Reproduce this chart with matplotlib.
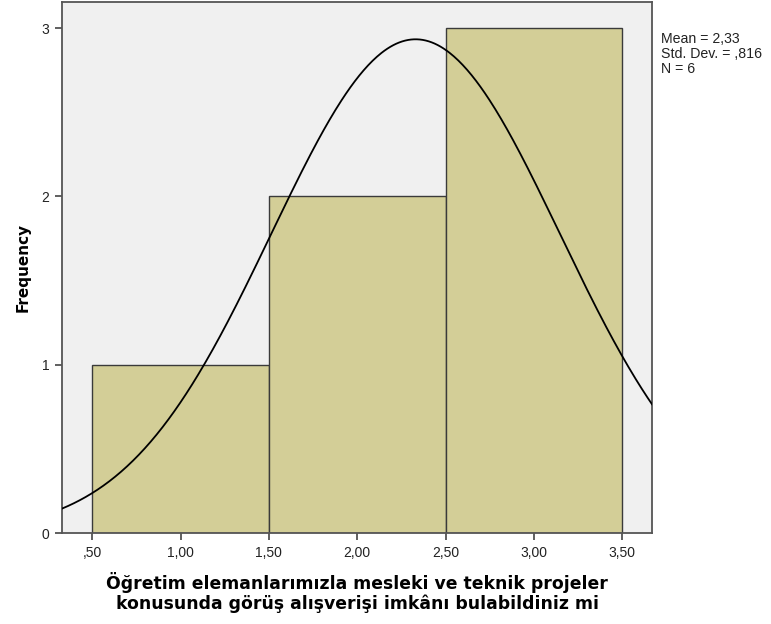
import numpy as np
import matplotlib
matplotlib.use("Agg")
import matplotlib.pyplot as plt

# Histogram-Daten
bin_kanten = [0.5, 1.5, 2.5, 3.5]
haeufigkeit = [1, 2, 3]
mittelwert = 2.33
std_abw = 0.816
n = 6
x_ticks = [0.5, 1.0, 1.5, 2.0, 2.5, 3.0, 3.5]
x_tick_labels = [",50", "1,00", "1,50", "2,00", "2,50", "3,00", "3,50"]
y_ticks = [0, 1, 2, 3]

fig = plt.figure(figsize=(7.71, 6.24), dpi=100)
ax = fig.add_axes([0.0804, 0.1458, 0.7653, 0.851])
ax.set_facecolor("#f0f0f0")

breiten = np.diff(bin_kanten)
ax.bar(bin_kanten[:-1], haeufigkeit, width=breiten, align="edge",
       color="#d3ce97", edgecolor="#3a3a3a", linewidth=1.0, zorder=2)

# Normalverteilungskurve
xs = np.linspace(0.329, 3.668, 400)
ys = n * 1.0 / (std_abw * np.sqrt(2 * np.pi)) * np.exp(-0.5 * ((xs - mittelwert) / std_abw) ** 2)
ax.plot(xs, ys, color="black", linewidth=1.3, zorder=3)

ax.set_xlim(0.329, 3.668)
ax.set_ylim(0, 3.155)
ax.set_xticks(x_ticks)
ax.set_xticklabels(x_tick_labels, fontsize=10, family="Liberation Sans", color="#222222")
ax.set_yticks(y_ticks)
ax.set_yticklabels([str(v) for v in y_ticks], fontsize=10, family="Liberation Sans", color="#222222")
ax.tick_params(direction="out", length=5, width=1.2, color="#444444", pad=4)

for s in ax.spines.values():
    s.set_color("#555555")
    s.set_linewidth(1.3)

ax.set_ylabel("Frequency", fontsize=11, fontweight="bold", family="DejaVu Sans", labelpad=8)
ax.set_xlabel("Öğretim elemanlarımızla mesleki ve teknik projeler\nkonusunda görüş alışverişi imkânı bulabildiniz mi",
              fontsize=12.4, fontweight="bold", family="DejaVu Sans", labelpad=9, linespacing=1.1)

fig.text(661 / 771, 1 - 32 / 624,
         f"Mean = {mittelwert:.2f}".replace(".", ",") + "\nStd. Dev. = ,816\nN = " + str(n),
         fontsize=10.2, family="Liberation Sans", va="top", ha="left", linespacing=1.1, color="#222222")

plt.savefig("out.png", dpi=100)
